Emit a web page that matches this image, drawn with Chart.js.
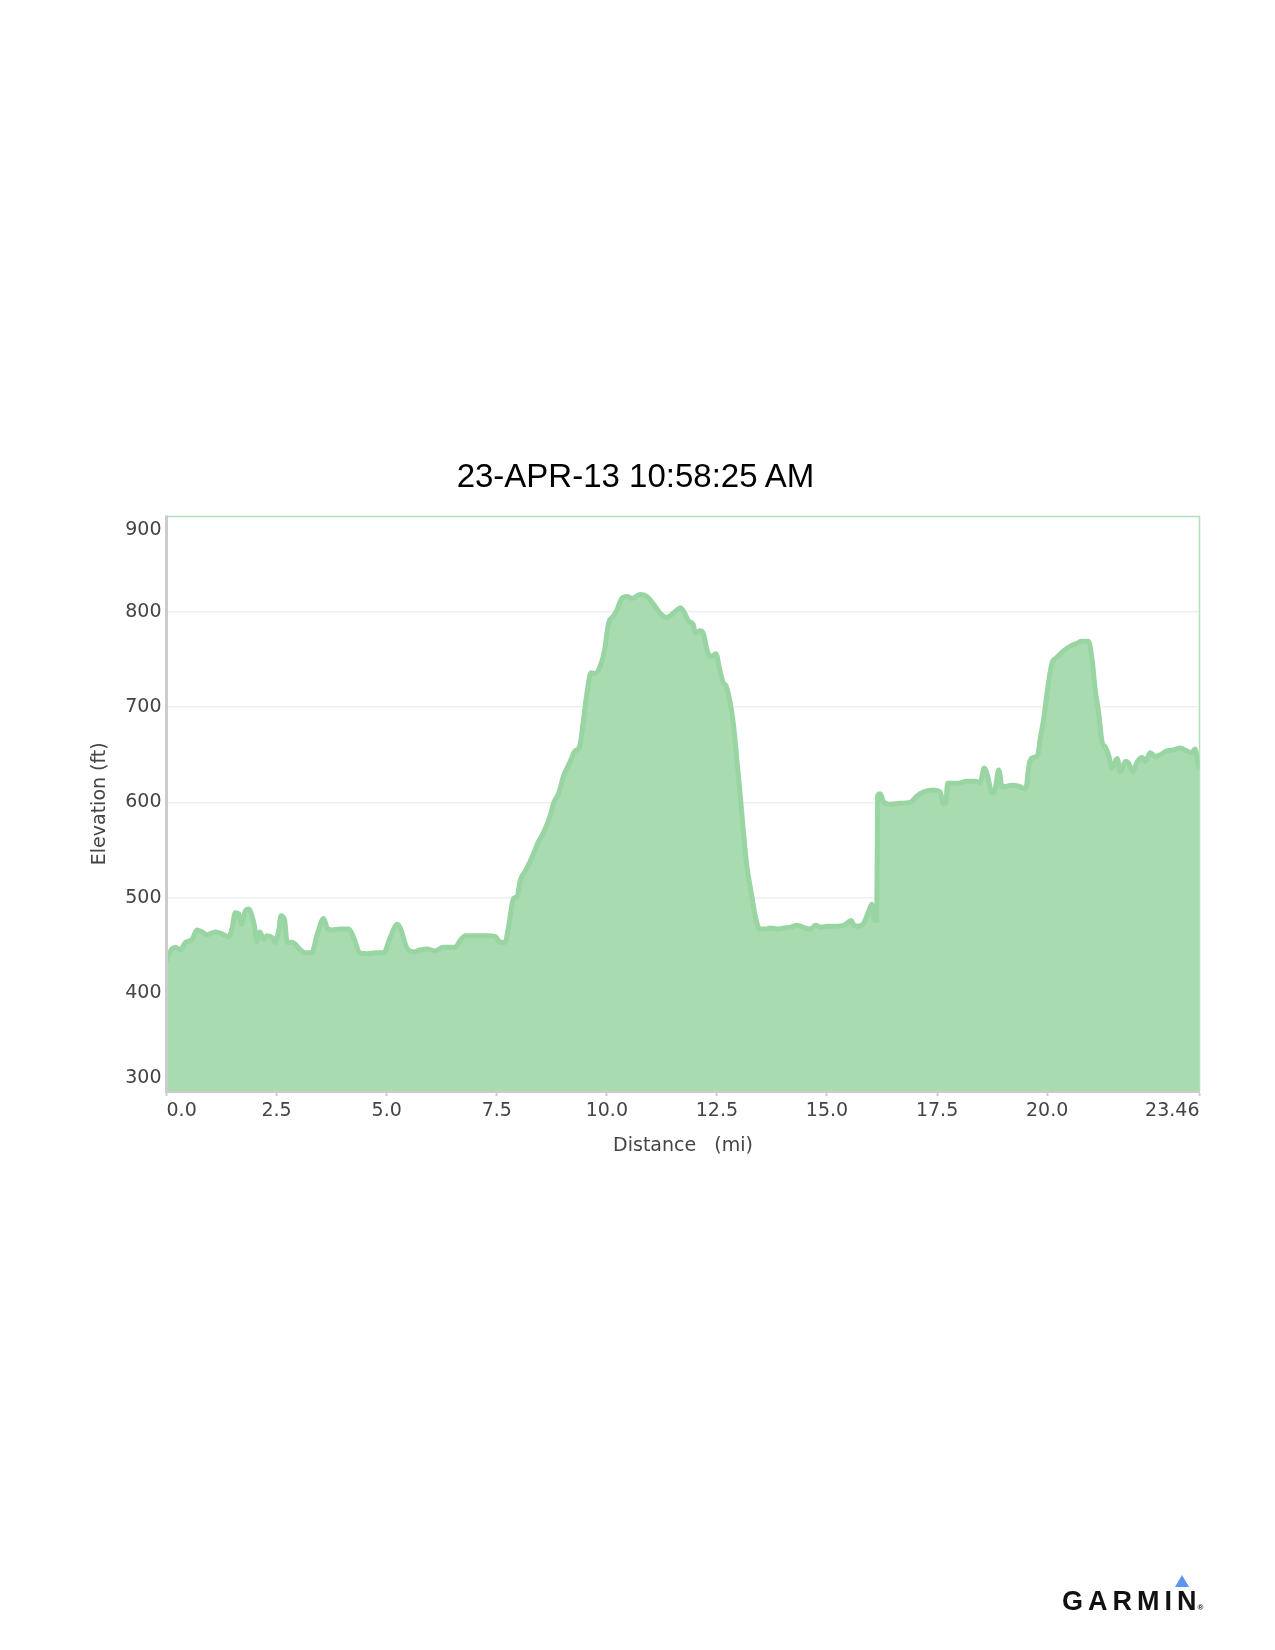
<!DOCTYPE html>
<html>
<head>
<meta charset="utf-8">
<script src="https://cdn.jsdelivr.net/npm/chart.js@4.4.0/dist/chart.umd.min.js"></script>
<style>
  body { margin: 0; background: #fff; }
  #wrap { position: relative; width: 1275px; height: 1650px; overflow: hidden; }
  #chart { position: absolute; left: 0; top: 0; }
  #title {
    position: absolute; left: 0; top: 459px; width: 1271px;
    text-align: center; font: 33px/33px "Liberation Sans", Arial, sans-serif; color: #000;
  }
  #logo {
    position: absolute; left: 1062px; top: 1588px;
    font: bold 27px/27px "Liberation Sans", Arial, sans-serif; letter-spacing: 5px; color: #111;
  }
  #logo .reg { font-size: 8px; letter-spacing: 0; vertical-align: baseline; margin-left: -4px; }
  #tri {
    position: absolute; left: 1175px; top: 1575px; width: 0; height: 0;
    border-left: 7.5px solid transparent; border-right: 7.5px solid transparent;
    border-bottom: 12px solid #5b95ef;
  }
</style>
</head>
<body>
<div id="wrap">
  <canvas id="chart" width="1275" height="1650"></canvas>
  <div id="title">23-APR-13 10:58:25 AM</div>
  <div id="tri"></div>
  <div id="logo">GARMIN<span class="reg">®</span></div>
</div>
<script>
// distance along the track (mi) and elevation (ft)
const distMi = [
  0.00, 0.05, 0.12, 0.20, 0.31, 0.43, 0.58, 0.69, 0.81, 0.92,
  1.11, 1.26, 1.41, 1.49, 1.56, 1.64, 1.70, 1.79, 1.87, 1.94,
  2.00, 2.05, 2.12, 2.21, 2.28, 2.40, 2.47, 2.55, 2.60, 2.68,
  2.74, 2.85, 2.93, 3.04, 3.15, 3.30, 3.42, 3.57, 3.65, 3.76,
  3.95, 4.14, 4.25, 4.39, 4.55, 4.78, 4.93, 5.08, 5.24, 5.31,
  5.46, 5.61, 5.76, 5.92, 6.10, 6.29, 6.56, 6.67, 6.79, 6.97,
  7.28, 7.47, 7.58, 7.69, 7.77, 7.88, 7.96, 8.04, 8.15, 8.30,
  8.45, 8.56, 8.72, 8.79, 8.91, 9.02, 9.17, 9.28, 9.38, 9.47,
  9.55, 9.64, 9.74, 9.85, 9.95, 10.04, 10.14, 10.23, 10.34, 10.46,
  10.57, 10.76, 10.91, 11.06, 11.22, 11.37, 11.52, 11.67, 11.74, 11.86,
  11.96, 12.01, 12.12, 12.20, 12.28, 12.37, 12.48, 12.56, 12.64, 12.71,
  12.80, 12.88, 12.96, 13.03, 13.11, 13.18, 13.28, 13.37, 13.47, 13.60,
  13.71, 13.87, 14.02, 14.17, 14.32, 14.51, 14.62, 14.74, 14.85, 15.04,
  15.23, 15.38, 15.45, 15.55, 15.61, 15.72, 15.83, 15.95, 16.02, 16.08,
  16.13, 16.15, 16.21, 16.29, 16.44, 16.67, 16.89, 17.05, 17.20, 17.42,
  17.57, 17.65, 17.70, 17.74, 17.95, 18.18, 18.37, 18.48, 18.57, 18.63,
  18.75, 18.82, 18.90, 18.98, 19.09, 19.20, 19.35, 19.51, 19.60, 19.69,
  19.79, 19.84, 19.92, 20.01, 20.11, 20.22, 20.37, 20.53, 20.68, 20.79,
  20.94, 21.02, 21.09, 21.17, 21.25, 21.32, 21.40, 21.47, 21.59, 21.66,
  21.78, 21.85, 21.95, 22.04, 22.16, 22.23, 22.34, 22.46, 22.57, 22.72,
  22.87, 23.02, 23.17, 23.28, 23.36, 23.43, 23.46
];
const elevFt = [
  433, 440, 446, 448, 445, 453, 456, 466, 464, 461,
  464, 462, 459, 468, 484, 483, 472, 486, 488, 481,
  470, 454, 464, 456, 460, 458, 453, 466, 481, 477,
  453, 453, 451, 445, 442, 442, 461, 478, 468, 466,
  467, 467, 458, 442, 441, 442, 442, 458, 472, 468,
  447, 443, 445, 446, 444, 448, 448, 455, 460, 460,
  460, 459, 453, 453, 470, 499, 501, 519, 528, 542,
  559, 568, 587, 599, 610, 628, 643, 654, 658, 687,
  715, 736, 735, 743, 760, 788, 795, 802, 814, 816,
  814, 818, 816, 808, 798, 794, 799, 804, 801, 790,
  787, 778, 780, 776, 759, 753, 756, 740, 726, 722,
  705, 680, 642, 607, 565, 533, 505, 481, 467, 467,
  468, 467, 468, 469, 471, 468, 467, 471, 469, 470,
  470, 471, 473, 476, 471, 470, 473, 486, 493, 476,
  476, 607, 609, 600, 598, 599, 600, 607, 611, 613,
  611, 598, 600, 620, 620, 622, 622, 621, 636, 631,
  610, 614, 634, 616, 617, 618, 617, 614, 642, 647,
  650, 666, 687, 719, 746, 752, 759, 764, 767, 769,
  769, 750, 719, 694, 663, 658, 649, 636, 646, 632,
  643, 641, 632, 642, 647, 643, 652, 648, 650, 654,
  655, 657, 654, 652, 656, 638, 636
];
const xTicks = [0, 2.5, 5, 7.5, 10, 12.5, 15, 17.5, 20, 23.46];
const xTickLabels = ['0.0', '2.5', '5.0', '7.5', '10.0', '12.5', '15.0', '17.5', '20.0', '23.46'];
const yTicks = [300, 400, 500, 600, 700, 800, 900];

const TICK_FONT = { family: 'DejaVu Sans', size: 19 };
const GRAY = '#444444';

// y labels drawn by hand so the end labels stay inside the plot height
const yLabels = {
  id: 'yLabels',
  afterDraw(chart) {
    const { ctx, chartArea, scales } = chart;
    ctx.save();
    ctx.font = '19px "DejaVu Sans"';
    ctx.fillStyle = GRAY;
    ctx.textAlign = 'right';
    ctx.textBaseline = 'middle';
    yTicks.forEach(v => {
      let py = scales.y.getPixelForValue(v);
      py = Math.min(Math.max(py, chartArea.top + 13.5), chartArea.bottom - 13);
      ctx.fillText(String(v), chartArea.left - 5, py);
    });
    ctx.restore();
  }
};

const frame = {
  id: 'frame',
  beforeDatasetsDraw(chart) {
    const { ctx, chartArea: a } = chart;
    ctx.save();
    ctx.strokeStyle = '#b3dfbb';
    ctx.lineWidth = 1.5;
    ctx.beginPath();
    ctx.moveTo(a.left, a.top);
    ctx.lineTo(a.right, a.top);
    ctx.lineTo(a.right, a.bottom);
    ctx.stroke();
    ctx.restore();
  },
  afterDatasetsDraw(chart) {
    const { ctx, chartArea: a } = chart;
    ctx.save();
    ctx.strokeStyle = '#cccccc';
    ctx.lineWidth = 3;
    ctx.beginPath();
    ctx.moveTo(a.left, a.top - 1);
    ctx.lineTo(a.left, a.bottom + 1);
    ctx.stroke();
    ctx.restore();
  }
};

new Chart(document.getElementById('chart'), {
  type: 'line',
  data: {
    datasets: [{
      data: distMi.map((d, i) => ({ x: d, y: elevFt[i] })),
      borderColor: '#98d5a2',
      backgroundColor: '#a9dbb1',
      borderWidth: 5,
      fill: 'start',
      pointRadius: 0,
      cubicInterpolationMode: 'monotone',
      clip: { left: 0, right: 0, top: 5, bottom: 0 }
    }]
  },
  options: {
    responsive: false,
    animation: false,
    layout: { padding: { left: 85, right: 75.5, top: 516.5, bottom: 459 } },
    plugins: { legend: { display: false }, tooltip: { enabled: false } },
    scales: {
      x: {
        type: 'linear', min: 0, max: 23.46, z: 1,
        afterBuildTicks: s => { s.ticks = xTicks.map(v => ({ value: v })); },
        afterFit: s => { s.height = 100; },
        grid: { drawOnChartArea: false, drawTicks: true, tickLength: 5, tickColor: '#cccccc', tickWidth: 2 },
        border: { display: true, color: '#cccccc', width: 3 },
        ticks: {
          align: 'inner', color: GRAY, font: TICK_FONT, padding: 4,
          maxRotation: 0, autoSkip: false,
          callback: (v, i) => xTickLabels[i]
        },
        title: { display: true, text: 'Distance   (mi)', color: GRAY, font: TICK_FONT, padding: { top: 0, bottom: 33.6 } }
      },
      y: {
        min: 297, max: 900,
        afterBuildTicks: s => { s.ticks = yTicks.map(v => ({ value: v })); },
        afterFit: s => { s.width = 81.5; },
        grid: {
          color: c => (c.tick && c.tick.value === 900) ? 'rgba(0,0,0,0)' : '#efefef',
          lineWidth: 1.5, drawTicks: false
        },
        border: { display: false },
        ticks: { color: 'rgba(0,0,0,0)', font: TICK_FONT, padding: 5 },
        title: { display: true, text: 'Elevation (ft)', color: GRAY, font: TICK_FONT, padding: { top: 3.6, bottom: 0 } }
      }
    }
  },
  plugins: [frame, yLabels]
});
</script>
</body>
</html>
